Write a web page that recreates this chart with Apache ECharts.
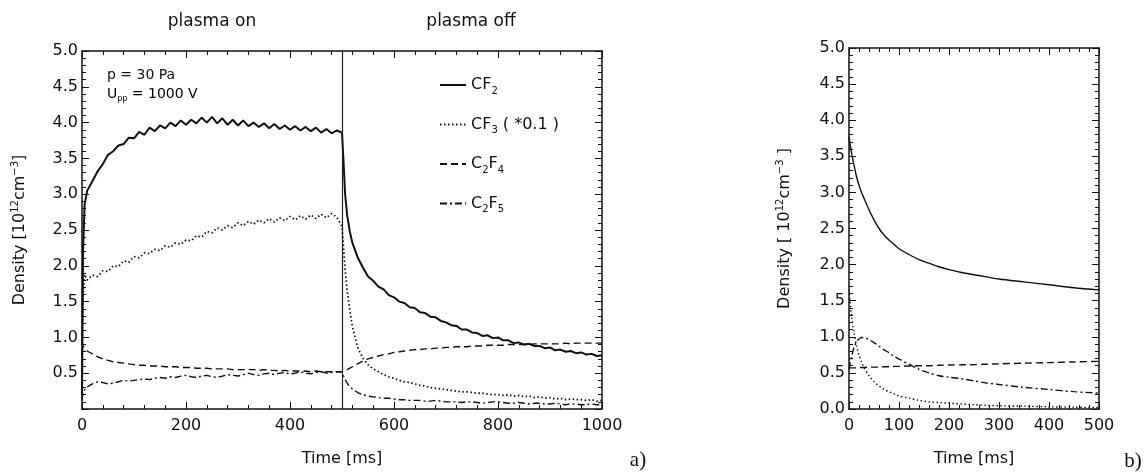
<!DOCTYPE html>
<html><head><meta charset="utf-8">
<script src="https://cdn.jsdelivr.net/npm/echarts@6/dist/echarts.min.js"></script>
<style>html,body{margin:0;padding:0;background:#fff}#c{width:1145px;height:472px}</style>
</head><body><div id="c"></div>
<script>
// ---- Panel a) measured densities (10^12 cm^-3) ----
const timeA = [0,2,5,10,20,30,40,50,60,70,80,90,100,110,120,130,140,150,160,170,180,190,200,210,220,230,240,250,260,270,280,290,300,310,320,330,340,350,360,370,380,390,400,410,420,430,440,450,460,470,480,490,500,503,506,510,515,520,530,540,550,560,570,580,590,600,610,620,630,640,650,660,670,680,690,700,710,720,730,740,750,760,770,780,790,800,810,820,830,840,850,860,870,880,890,900,910,920,930,940,950,960,970,980,990,1000];
const cf2A = [0.2,2.2,2.85,3.05,3.18,3.32,3.42,3.55,3.6,3.68,3.7,3.79,3.78,3.87,3.83,3.93,3.88,3.96,3.92,4.0,3.95,4.03,3.97,4.04,3.99,4.07,4.0,4.08,3.99,4.06,3.97,4.04,3.96,4.03,3.95,4.0,3.94,3.99,3.92,3.98,3.91,3.96,3.9,3.95,3.89,3.94,3.88,3.93,3.86,3.91,3.85,3.89,3.86,3.45,3.0,2.7,2.48,2.32,2.12,1.98,1.85,1.79,1.71,1.67,1.59,1.56,1.5,1.48,1.42,1.41,1.35,1.34,1.29,1.28,1.23,1.21,1.17,1.16,1.11,1.11,1.07,1.06,1.02,1.03,0.99,1.0,0.96,0.96,0.92,0.93,0.9,0.91,0.88,0.88,0.85,0.86,0.82,0.83,0.8,0.81,0.78,0.79,0.76,0.77,0.74,0.75];
const cf3A = [0.9,1.6,1.88,1.8,1.87,1.85,1.93,1.92,2.0,1.99,2.07,2.05,2.13,2.11,2.18,2.17,2.23,2.21,2.28,2.26,2.32,2.3,2.36,2.35,2.42,2.4,2.48,2.46,2.53,2.5,2.56,2.53,2.6,2.56,2.62,2.58,2.64,2.6,2.66,2.61,2.67,2.63,2.69,2.64,2.7,2.65,2.71,2.66,2.72,2.67,2.73,2.68,2.55,2.25,1.95,1.65,1.38,1.15,0.86,0.71,0.62,0.56,0.52,0.48,0.45,0.43,0.4,0.38,0.37,0.35,0.33,0.32,0.3,0.29,0.28,0.27,0.26,0.25,0.24,0.24,0.23,0.22,0.22,0.21,0.2,0.2,0.19,0.2,0.18,0.19,0.17,0.18,0.16,0.17,0.15,0.16,0.14,0.15,0.13,0.14,0.13,0.13,0.12,0.13,0.11,0.12];
const c2f4A = [0.95,0.88,0.85,0.81,0.77,0.73,0.7,0.68,0.66,0.65,0.64,0.63,0.62,0.61,0.61,0.6,0.6,0.6,0.59,0.59,0.59,0.58,0.58,0.58,0.57,0.57,0.57,0.56,0.56,0.56,0.56,0.55,0.55,0.55,0.55,0.55,0.54,0.55,0.54,0.54,0.53,0.54,0.53,0.53,0.53,0.53,0.52,0.53,0.52,0.52,0.52,0.52,0.52,0.53,0.54,0.55,0.57,0.59,0.63,0.67,0.7,0.72,0.74,0.76,0.77,0.79,0.8,0.81,0.82,0.83,0.83,0.84,0.84,0.85,0.85,0.86,0.86,0.87,0.87,0.87,0.88,0.88,0.88,0.89,0.89,0.89,0.89,0.9,0.9,0.9,0.9,0.9,0.91,0.91,0.91,0.91,0.91,0.91,0.92,0.91,0.92,0.92,0.92,0.92,0.92,0.92];
const c2f5A = [0.12,0.22,0.27,0.31,0.35,0.38,0.37,0.35,0.36,0.38,0.4,0.39,0.4,0.41,0.42,0.41,0.43,0.44,0.43,0.45,0.44,0.46,0.47,0.45,0.44,0.46,0.47,0.45,0.44,0.46,0.48,0.47,0.46,0.48,0.5,0.48,0.47,0.49,0.5,0.48,0.5,0.51,0.49,0.5,0.52,0.5,0.49,0.51,0.52,0.5,0.51,0.52,0.52,0.46,0.41,0.36,0.31,0.28,0.23,0.2,0.18,0.17,0.16,0.15,0.15,0.14,0.13,0.13,0.12,0.12,0.12,0.11,0.11,0.12,0.11,0.1,0.1,0.1,0.09,0.1,0.1,0.09,0.08,0.09,0.1,0.1,0.09,0.08,0.08,0.09,0.08,0.07,0.08,0.08,0.07,0.07,0.08,0.07,0.06,0.07,0.07,0.06,0.06,0.07,0.06,0.06];

// ---- Panel b) model densities ----
const timeB = [0,5,10,15,20,25,30,40,50,60,70,80,90,100,120,140,160,180,200,225,250,275,300,350,400,450,500];
const cf2B = [3.77,3.55,3.38,3.22,3.1,3.0,2.92,2.76,2.62,2.5,2.41,2.34,2.28,2.22,2.14,2.07,2.02,1.97,1.93,1.89,1.86,1.83,1.8,1.76,1.72,1.68,1.65];
const cf3B = [1.65,1.3,1.05,0.88,0.75,0.65,0.57,0.46,0.38,0.32,0.27,0.24,0.21,0.18,0.15,0.12,0.1,0.09,0.08,0.07,0.06,0.05,0.045,0.04,0.03,0.025,0.02];
const c2f4B = [0.57,0.57,0.57,0.57,0.575,0.575,0.575,0.58,0.58,0.58,0.585,0.585,0.59,0.59,0.595,0.6,0.6,0.605,0.61,0.612,0.615,0.62,0.625,0.635,0.643,0.652,0.66];
const c2f5B = [0.55,0.72,0.85,0.93,0.97,0.99,0.99,0.96,0.92,0.87,0.82,0.78,0.73,0.69,0.62,0.55,0.5,0.46,0.44,0.42,0.39,0.36,0.34,0.3,0.27,0.24,0.22];

const seriesNames = ['CF2','CF3','C2F4','C2F5'];
const legendLabels = {
  'CF2': '{n|CF}{s|2}',
  'CF3': '{n|CF}{s|3}{n| ( *0.1 )}',
  'C2F4': '{n|C}{s|2}{n|F}{s|4}',
  'C2F5': '{n|C}{s|2}{n|F}{s|5}'
};
const vLine = 500;

const FONT = 'DejaVu Sans';
const pairs = (t, v) => t.map((x, i) => [x, v[i]]);
const styles = [
  {type: 'solid'},
  {type: [1.5, 2.5]},
  {type: [7, 4]},
  {type: [7, 3, 2, 3]}
];

function xAx(grid, max, interval, pos, labels) {
  return {
    type: 'value', gridIndex: grid, min: 0, max: max, interval: interval, position: pos,
    axisLine: {show: true, onZero: false, lineStyle: {color: '#111', width: 1.5}},
    axisTick: {show: true, inside: true, length: 7, lineStyle: {color: '#111', width: 1}},
    minorTick: {show: true, splitNumber: 5, length: 4, lineStyle: {color: '#111', width: 1}},
    axisLabel: {show: labels, color: '#111', fontFamily: FONT, fontSize: 16, margin: 9,
      formatter: v => String(v)},
    splitLine: {show: false}, minorSplitLine: {show: false}
  };
}
function yAx(grid, pos, labels, showMin) {
  return {
    type: 'value', gridIndex: grid, min: 0, max: 5, interval: 0.5, position: pos,
    axisLine: {show: true, onZero: false, lineStyle: {color: '#111', width: 1.5}},
    axisTick: {show: true, inside: true, length: 7, lineStyle: {color: '#111', width: 1}},
    minorTick: {show: true, splitNumber: 5, length: 4, lineStyle: {color: '#111', width: 1}},
    axisLabel: {show: labels, showMinLabel: showMin, color: '#111', fontFamily: FONT, fontSize: 16, margin: 4,
      formatter: v => v.toFixed(1)},
    splitLine: {show: false}, minorSplitLine: {show: false}
  };
}

const xA = xAx(0, 1000, 200, 'bottom', true);
xA.name = 'Time [ms]'; xA.nameLocation = 'middle'; xA.nameGap = 42;
xA.nameTextStyle = {fontFamily: FONT, fontSize: 16, color: '#111'};
const xB = xAx(1, 500, 100, 'bottom', true);
xB.name = 'Time [ms]'; xB.nameLocation = 'middle'; xB.nameGap = 42;
xB.nameTextStyle = {fontFamily: FONT, fontSize: 16, color: '#111'};

const yRich = {
  n: {fontFamily: FONT, fontSize: 16, color: '#111', lineHeight: 20},
  sup: {fontFamily: FONT, fontSize: 10, color: '#111', lineHeight: 10, verticalAlign: 'top'}
};
const yA = yAx(0, 'left', true, false);
yA.name = '{n|Density [10}{sup|12}{n|cm}{sup|−3}{n|]}';
yA.nameLocation = 'middle'; yA.nameGap = 52; yA.nameRotate = 90;
yA.nameTextStyle = {rich: yRich};
const yB = yAx(1, 'left', true, true);
yB.name = '{n|Density [ 10}{sup|12}{n|cm}{sup|−3}{n| ]}';
yB.nameLocation = 'middle'; yB.nameGap = 54; yB.nameRotate = 90;
yB.nameTextStyle = {rich: yRich};

const lineW = [2, 1.8, 1.4, 1.4];
const dataA = [cf2A, cf3A, c2f4A, c2f5A];
const dataB = [cf2B, cf3B, c2f4B, c2f5B];

const series = [];
seriesNames.forEach((nm, i) => {
  const s = {
    name: nm, type: 'line', xAxisIndex: 0, yAxisIndex: 0,
    data: pairs(timeA, dataA[i]), showSymbol: false, symbol: 'none',
    lineStyle: Object.assign({color: '#111', width: lineW[i]}, styles[i]),
    itemStyle: {color: '#111'}, z: 3, animation: false
  };
  if (i === 0) {
    s.markLine = {silent: true, symbol: ['none', 'none'], label: {show: false},
      lineStyle: {color: '#222', width: 1.2, type: 'solid'}, data: [{xAxis: vLine}], animation: false};
  }
  series.push(s);
});
seriesNames.forEach((nm, i) => {
  series.push({
    name: nm + ' model', type: 'line', xAxisIndex: 2, yAxisIndex: 2,
    data: pairs(timeB, dataB[i]), showSymbol: false, symbol: 'none', smooth: 0.3,
    lineStyle: Object.assign({color: '#111', width: 1.4}, styles[i]),
    z: 3, animation: false
  });
});

const option = {
  backgroundColor: '#fff',
  animation: false,
  grid: [
    {left: 82, top: 51, width: 520, height: 360},
    {left: 849, top: 48, width: 250, height: 363}
  ],
  xAxis: [xA, xAx(0, 1000, 200, 'top', false), xB, xAx(1, 500, 100, 'top', false)],
  yAxis: [yA, yAx(0, 'right', false, true), yB, yAx(1, 'right', false, true)],
  legend: {
    data: seriesNames, orient: 'vertical', left: 434, top: 72,
    itemWidth: 26, itemHeight: 14, itemGap: 20.5,
    itemStyle: {opacity: 0},
    formatter: nm => legendLabels[nm],
    textStyle: {
      rich: {
        n: {fontFamily: FONT, fontSize: 16, color: '#111', lineHeight: 22},
        s: {fontFamily: FONT, fontSize: 10, color: '#111', lineHeight: 10, verticalAlign: 'bottom'}
      }
    }
  },
  graphic: [
    {type: 'text', style: {text: 'plasma on', x: 212, y: 22, align: 'center', verticalAlign: 'middle', font: '17px "DejaVu Sans"', fill: '#111'}},
    {type: 'text', style: {text: 'plasma off', x: 471, y: 22, align: 'center', verticalAlign: 'middle', font: '17px "DejaVu Sans"', fill: '#111'}},
    {type: 'text', style: {text: 'p = 30 Pa', x: 107, y: 75, align: 'left', verticalAlign: 'middle', font: '14px "DejaVu Sans"', fill: '#111'}},
    {type: 'text', style: {text: '{n|U}{s|pp}{n| = 1000 V}', x: 107, y: 94, align: 'left', verticalAlign: 'middle',
      rich: {n: {fontFamily: FONT, fontSize: 14, color: '#111', lineHeight: 18},
             s: {fontFamily: FONT, fontSize: 8, color: '#111', lineHeight: 8, verticalAlign: 'bottom'}}}},
    {type: 'text', style: {text: 'a)', x: 638, y: 460, align: 'center', verticalAlign: 'middle', font: '21px "Liberation Serif"', fill: '#111'}},
    {type: 'text', style: {text: 'b)', x: 1133, y: 461, align: 'center', verticalAlign: 'middle', font: '21px "Liberation Serif"', fill: '#111'}}
  ],
  series: series
};

const chart = echarts.init(document.getElementById('c'), null, {renderer: 'canvas'});
chart.setOption(option);
</script>
</body></html>
